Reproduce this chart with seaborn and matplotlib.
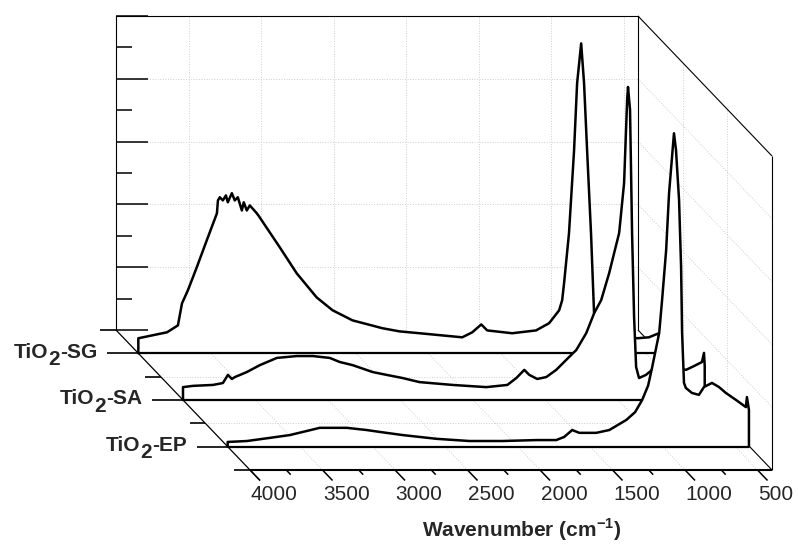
import matplotlib
matplotlib.use("Agg")
import matplotlib.pyplot as plt
import numpy as np
import seaborn as sns

sns.set_theme(style="white")
plt.rcParams["font.family"] = ["Liberation Sans", "DejaVu Sans"]
plt.rcParams["mathtext.fontset"] = "custom"
plt.rcParams["mathtext.rm"] = "Liberation Sans"
plt.rcParams["mathtext.bf"] = "Liberation Sans:bold"

# --- spectra (wavenumber in cm-1, normalised intensity) ---
sg_wn = [4000, 3802, 3727, 3699, 3658, 3597, 3528, 3458, 3451, 3438, 3417, 3396, 3383, 3355,
         3335, 3314, 3286, 3273, 3252, 3231, 3183, 3163, 3025, 2908, 2770, 2660, 2523, 2317,
         2200, 2061, 1766, 1697, 1635, 1594, 1422, 1257, 1167, 1098, 1077, 1064, 1030, 995,
         974, 946, 926, 905, 878, 857, 755, 652, 561, 479, 410]
sg_int = [4.8, 6.7, 8.9, 15.9, 20.1, 27.4, 36.0, 44.6, 48.7, 49.7, 48.7, 50.3, 48.1, 51.0,
          48.7, 49.7, 45.5, 48.1, 45.5, 47.1, 44.6, 43.3, 33.8, 25.5, 17.8, 13.7, 10.5, 8.0,
          7.0, 6.4, 5.1, 6.7, 9.2, 7.3, 6.4, 7.3, 9.6, 13.7, 16.9, 22.3, 38.2, 64.6,
          86.0, 98.7, 86.0, 64.6, 38.2, 12.7, 7.3, 5.4, 4.8, 5.1, 6.4]

sa_wn = [4000, 3931, 3794, 3725, 3690, 3663, 3642, 3560, 3470, 3353, 3215, 3105, 2988, 2919,
         2830, 2692, 2596, 2486, 2369, 2142, 1908, 1763, 1701, 1646, 1612, 1557, 1495, 1426,
         1337, 1288, 1219, 1164, 1116, 1061, 992, 958, 937, 931, 917, 903, 889, 875, 855,
         807, 765, 717, 620, 531, 476, 421, 407, 402]
sa_int = [4.1, 4.5, 4.8, 5.4, 8.0, 6.7, 7.3, 8.9, 11.1, 13.4, 14.0, 14.0, 13.4, 12.1,
          11.1, 8.9, 8.0, 7.0, 5.7, 4.8, 4.1, 4.8, 7.0, 9.6, 8.0, 6.7, 7.3, 9.6,
          13.7, 15.9, 21.3, 27.7, 31.8, 40.4, 53.2, 69.1, 95.5, 99.7, 92.4, 53.2, 26.4, 10.5, 7.0,
          8.0, 9.6, 11.1, 10.5, 9.6, 10.8, 12.1, 15.0, 11.0]

ep_wn = [4000, 3867, 3709, 3571, 3454, 3365, 3179, 3042, 2952, 2794, 2560, 2333, 2106, 1871,
         1734, 1679, 1624, 1575, 1458, 1368, 1251, 1190, 1141, 1100, 1072, 1024, 1004, 976, 956,
         922, 908, 901, 887, 873, 866, 853, 840, 798, 750, 715, 660, 612, 564, 495, 426, 419, 405]
ep_int = [1.5, 1.8, 2.8, 3.7, 5.0, 6.0, 6.0, 5.3, 4.7, 3.7, 2.5, 1.8, 1.8, 2.1,
          2.1, 3.1, 5.3, 4.4, 4.4, 5.3, 8.5, 11.0, 14.9, 19.5, 25.4, 36.2, 46.7, 62.6, 80.7,
          99.8, 94.5, 89.1, 78.6, 57.3, 36.2, 20.3, 18.7, 17.1, 16.5, 19.0, 20.3, 19.0, 17.1, 14.9,
          12.6, 15.8, 11.7]

label_base, label_sub = "TiO", "2"
series_names = ["SG", "SA", "EP"]
series_depth = [1, 3, 5]
x_ticks = list(range(4000, 499, -500))
x_minor = list(range(3750, 499, -500))

# --- box geometry (back wall is a normal axes, depth is an oblique shift) ---
W_MAX, W_MIN, I_MAX, DEPTH = 4000, 400, 100, 6
WALL_W, WALL_H = 522, 314            # back wall size in px
DEPTH_DX, DEPTH_DY = 134, 140        # px shift for the full depth

fig = plt.figure(figsize=(7.98, 5.51), dpi=100)
ax = fig.add_axes([116 / 798, (551 - 330) / 551, WALL_W / 798, WALL_H / 551])

dw = DEPTH_DX / DEPTH * (W_MIN - W_MAX) / WALL_W
di = -DEPTH_DY / DEPTH * I_MAX / WALL_H


def proj(w, inten, d):
    return np.asarray(w, dtype=float) + d * dw, np.asarray(inten, dtype=float) + d * di


def seg(p, q, **kw):
    kw.setdefault("color", "black")
    kw.setdefault("lw", 0.8)
    ax.plot([p[0], q[0]], [p[1], q[1]], clip_on=False, solid_capstyle="butt", **kw)


grid_kw = dict(color="#cfcfcf", lw=0.7, ls=":", zorder=1)

# floor and right-wall grid
for w in x_ticks[1:]:
    seg(proj(w, 0, 0), proj(w, 0, DEPTH), **grid_kw)
for d in (2, 4):
    seg(proj(W_MAX, 0, d), proj(W_MIN, 0, d), **grid_kw)
    seg(proj(W_MIN, 0, d), proj(W_MIN, I_MAX, d), **grid_kw)
for i in range(20, 100, 20):
    seg(proj(W_MIN, i, 0), proj(W_MIN, i, DEPTH), **grid_kw)

# box edges behind the spectra
seg(proj(W_MIN, 0, 0), proj(W_MIN, 0, DEPTH), zorder=1.5)
seg(proj(W_MIN, I_MAX, 0), proj(W_MIN, I_MAX, DEPTH), zorder=1.5)

renderer = fig.canvas.get_renderer()
lab_kw = dict(textcoords="offset points", ha="right", va="baseline", fontsize=15,
              fontweight="bold", annotation_clip=False)

# spectra, back to front
for k, (wn, inten) in enumerate([(sg_wn, sg_int), (sa_wn, sa_int), (ep_wn, ep_int)]):
    d = series_depth[k]
    w_full = [wn[0]] + wn + [wn[-1]]
    i_full = [0] + inten + [0]
    px, py = proj(w_full, i_full, d)
    ax.fill(px, py, color="white", zorder=3 + k, clip_on=False)
    sns.lineplot(x=px, y=py, sort=False, estimator=None, color="black", lw=1.8,
                 ax=ax, zorder=3.2 + k, clip_on=False)
    seg(proj(W_MAX, 0, d), proj(wn[-1], 0, d), lw=1.6, zorder=3.2 + k)

    # label "TiO2-XX" with a full-size lowered 2, placed right to left
    x_off = -7.0
    anchor = proj(W_MAX + 214, 0, d)
    for text, dy in (("-" + series_names[k], 0), (label_sub, -5.5), (label_base, 0)):
        t = ax.annotate(text, xy=anchor, xytext=(x_off, -3 + dy), **lab_kw)
        x_off -= t.get_window_extent(renderer).width * 72 / fig.dpi

# depth ticks on the left
for d in range(DEPTH + 1):
    length = 214 if d % 2 else 107
    seg(proj(W_MAX, 0, d), proj(W_MAX + length, 0, d), lw=1.2, zorder=6)

# front edges and wavenumber ticks
seg(proj(W_MAX, 0, 0), proj(W_MAX, 0, DEPTH + 0.45), lw=0.9, zorder=6)
seg(proj(W_MAX, 0, DEPTH), proj(W_MIN, 0, DEPTH), lw=1.5, zorder=6)
seg(proj(W_MIN, 0, DEPTH), proj(W_MIN, I_MAX, DEPTH), zorder=6)
for w in x_ticks:
    seg(proj(w, 0, DEPTH), proj(w, 0, DEPTH + 0.45), lw=1.1, zorder=6)
    ax.annotate(str(w), xy=proj(w, 0, DEPTH), xytext=(0.5, -18), textcoords="offset points",
                ha="left", va="center", fontsize=15, annotation_clip=False)
for w in x_minor:
    seg(proj(w, 0, DEPTH), proj(w, 0, DEPTH + 0.2), lw=1.1, zorder=6)

# back wall
ax.set_xlim(W_MAX, W_MIN)
ax.set_ylim(0, I_MAX)
ax.set_xticks(x_ticks)
ax.set_yticks(range(0, 101, 20))
ax.set_yticks(range(10, 100, 20), minor=True)
ax.tick_params(axis="x", length=0, labelbottom=False)
ax.tick_params(axis="y", which="both", left=True, direction="in", color="black",
               labelleft=False, width=1.1)
ax.tick_params(axis="y", which="major", length=23)
ax.tick_params(axis="y", which="minor", length=11.5)
ax.grid(True, which="major", color="#cfcfcf", ls=":", lw=0.7)
ax.set_facecolor("none")
for side in ("left", "top", "right"):
    ax.spines[side].set_color("black")
    ax.spines[side].set_linewidth(0.8)
ax.spines["bottom"].set_visible(False)
ax.set_xlabel("")
ax.set_ylabel("")

fig.text(522 / 798, 1 - 530 / 551, r"Wavenumber (cm$^{\mathbf{-1}}$)", ha="center",
         va="center", fontsize=15, fontweight="bold")

fig.savefig("out.png", dpi=100)
